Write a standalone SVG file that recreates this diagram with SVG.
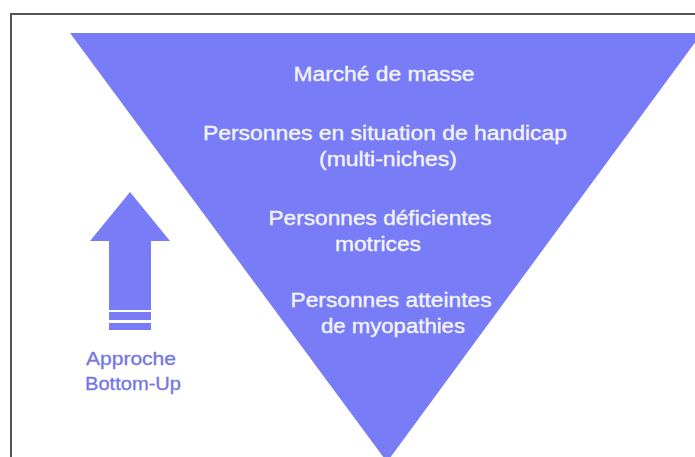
<svg xmlns="http://www.w3.org/2000/svg" width="695" height="457" viewBox="0 0 695 457">
<style>
.fill{fill:#787CF7;}
.in{font-family:"Liberation Sans",Arial,sans-serif;font-size:20px;fill:#F4F4F4;stroke:#F4F4F4;stroke-width:0.35px;text-anchor:middle;}
.lab{font-family:"Liberation Sans",Arial,sans-serif;font-size:19px;fill:#7276E2;stroke:#7276E2;stroke-width:0.3px;text-anchor:middle;}
</style>
<rect x="0" y="0" width="695" height="457" fill="#ffffff"/>
<path d="M11,457 V14 H695" fill="none" stroke="#555555" stroke-width="2"/>
<g id="pyramid">
<polygon class="fill" points="70,33 702,33 387,462"/>
<text class="in" x="384" y="81" textLength="181" lengthAdjust="spacingAndGlyphs">Marché de masse</text>
<text class="in" x="385" y="140" textLength="364" lengthAdjust="spacingAndGlyphs">Personnes en situation de handicap</text>
<text class="in" x="388" y="166" textLength="138" lengthAdjust="spacingAndGlyphs">(multi-niches)</text>
<text class="in" x="380" y="225" textLength="223" lengthAdjust="spacingAndGlyphs">Personnes déficientes</text>
<text class="in" x="378" y="251" textLength="86" lengthAdjust="spacingAndGlyphs">motrices</text>
<text class="in" x="391" y="307" textLength="201" lengthAdjust="spacingAndGlyphs">Personnes atteintes</text>
<text class="in" x="393" y="333" textLength="144" lengthAdjust="spacingAndGlyphs">de myopathies</text>
</g>
<g id="arrow">
<polygon class="fill" points="130,192 170,241 151,241 151,310 109,310 109,241 90,241"/>
<rect class="fill" x="109" y="312" width="42" height="8"/>
<rect class="fill" x="109" y="323" width="42" height="7"/>
<text class="lab" x="131" y="365" textLength="90" lengthAdjust="spacingAndGlyphs">Approche</text>
<text class="lab" x="133" y="390" textLength="96" lengthAdjust="spacingAndGlyphs">Bottom-Up</text>
</g>
</svg>
